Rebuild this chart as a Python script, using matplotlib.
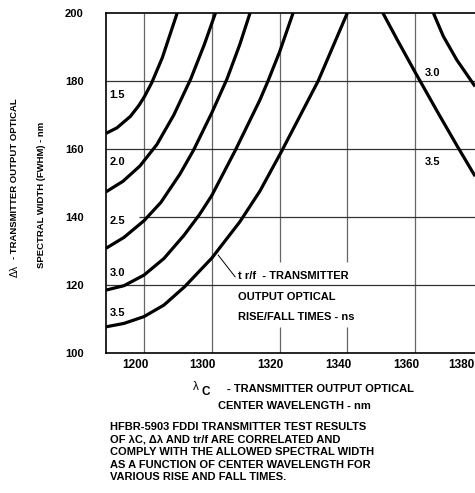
import matplotlib
matplotlib.use("Agg")
import matplotlib.pyplot as plt
from matplotlib.transforms import ScaledTranslation

# tr/f curves rising with wavelength (left family)
x15 = [1268.8, 1272.0, 1276.0, 1278.5, 1280.2, 1282.3, 1285.4, 1289.8]
y15 = [164.6, 166.2, 169.6, 172.8, 175.5, 179.5, 186.8, 200.0]
x20 = [1268.8, 1273.8, 1278.8, 1283.8, 1288.8, 1293.8, 1297.8, 1301.1]
y20 = [147.4, 150.5, 155.0, 161.3, 170.0, 180.6, 190.7, 200.0]
x25 = [1268.8, 1274.1, 1280.0, 1285.0, 1290.6, 1294.6, 1300.0, 1304.5, 1308.3, 1311.3]
y25 = [130.8, 134.0, 138.9, 144.3, 152.6, 159.6, 170.6, 180.6, 190.8, 200.0]
x30 = [1268.8, 1274.1, 1280.0, 1285.9, 1291.8, 1296.3, 1300.0, 1306.9, 1314.2, 1316.6, 1320.0, 1324.0]
y30 = [118.5, 119.8, 122.9, 127.8, 134.6, 140.6, 146.3, 159.5, 174.4, 180.0, 188.5, 200.0]
x35 = [1268.8, 1274.1, 1280.0, 1285.9, 1292.0, 1300.0, 1308.3, 1314.2, 1320.7, 1331.4, 1340.0]
y35 = [107.7, 108.7, 110.7, 114.1, 119.5, 127.9, 138.6, 147.6, 159.5, 180.0, 200.0]

# falling curves (right family)
xa = [1350.5, 1354.8, 1360.0, 1366.9, 1372.4, 1377.7]
ya = [200.0, 192.0, 182.6, 170.4, 160.9, 152.0]
xb = [1365.4, 1368.3, 1372.3, 1377.7]
yb = [200.0, 193.2, 186.2, 178.4]

xticks = [1280, 1300, 1320, 1340, 1360, 1380]
xticklabels = ["1200", "1300", "1320", "1340", "1360", "1380"]
yticks = [100, 120, 140, 160, 180, 200]

left_labels = ["1.5", "2.0", "2.5", "3.0", "3.5"]
left_label_y = [175.9, 156.3, 138.9, 123.4, 111.7]
right_labels = ["3.0", "3.5"]
right_label_y = [182.3, 156.3]

plt.rcParams["font.family"] = ["Liberation Sans", "DejaVu Sans"]
plt.rcParams["font.weight"] = "bold"

fig = plt.figure(figsize=(4.75, 4.93), dpi=100)
W, H = 475.0, 493.0
ax = fig.add_axes([106 / W, (H - 353) / H, (490 - 106) / W, (353 - 13) / H])
ax.set_xlim(1268.8, 1382.1)
ax.set_ylim(100, 200)

# grid lines (two verticals are broken around the annotation)
gcol = "#666666"
ax.vlines([1280, 1300, 1360, 1380], 100, 200, color=gcol, lw=0.9, zorder=1)
ax.vlines([1320, 1340], 100, 107.6, color=gcol, lw=0.9, zorder=1)
ax.vlines([1320, 1340], 126.8, 200, color=gcol, lw=0.9, zorder=1)
ax.hlines([120, 160, 180], 1268.8, 1382.1, color="#333333", lw=0.9, zorder=1)
ax.hlines(140, 1278.5, 1382.1, color="#333333", lw=0.9, zorder=1)

for xs, ys in [(x15, y15), (x20, y20), (x25, y25), (x30, y30), (x35, y35), (xa, ya), (xb, yb)]:
    ax.plot(xs, ys, color="black", lw=2.3, solid_capstyle="butt",
            solid_joinstyle="round", zorder=3)

for lab, yy in zip(left_labels, left_label_y):
    ax.text(1269.8, yy, lab, fontsize=8, fontweight="bold", va="center", ha="left")
for lab, yy in zip(right_labels, right_label_y):
    ax.text(1362.9, yy, lab, fontsize=8, fontweight="bold", va="center", ha="left")

# annotation
ax.plot([1301.9, 1306.9], [128.8, 122.4], color="black", lw=0.7, zorder=2)
ax.text(1307.8, 122.7, "t r/f  - TRANSMITTER", fontsize=8, fontweight="bold", va="center")
ax.text(1307.8, 116.5, "OUTPUT OPTICAL", fontsize=8, fontweight="bold", va="center")
ax.text(1307.8, 110.7, "RISE/FALL TIMES - ns", fontsize=8, fontweight="bold", va="center")

for s in ["left", "bottom", "top"]:
    ax.spines[s].set_linewidth(1.2)
ax.spines["right"].set_visible(False)

ax.set_xticks(xticks)
ax.set_xticklabels(xticklabels, fontsize=8.5, fontweight="bold")
ax.set_yticks(yticks)
ax.set_yticklabels([str(v) for v in yticks], fontsize=8, fontweight="bold")
ax.tick_params(axis="both", length=0)
ax.tick_params(axis="x", pad=4)
ax.tick_params(axis="y", pad=16)
labels = ax.get_xticklabels()
for i, lbl in enumerate(labels):
    dx = -22 if i == len(labels) - 1 else -9
    lbl.set_transform(lbl.get_transform() + ScaledTranslation(dx / 100, 0, fig.dpi_scale_trans))

# y label
fig.text(15 / W, 1 - 259 / H, "- TRANSMITTER OUTPUT OPTICAL", rotation=90, fontsize=6.8,
         fontweight="bold", ha="center", va="bottom")
fig.text(15 / W, 1 - 271 / H, "\u0394\u03bb", rotation=90, fontsize=7.5,
         fontweight="normal", ha="center", va="center")
fig.text(42 / W, 1 - 195 / H, "SPECTRAL WIDTH (FWHM) - nm", rotation=90, fontsize=6.8,
         fontweight="bold", ha="center", va="center")

# x label
fig.text(193 / W, 1 - 387 / H, "\u03bb", fontsize=8.5, fontweight="normal", ha="left", va="center")
fig.text(201 / W, 1 - 392 / H, "C", fontsize=8.5, fontweight="bold", ha="left", va="center")
fig.text(227 / W, 1 - 389 / H, "- TRANSMITTER OUTPUT OPTICAL", fontsize=8, fontweight="bold",
         ha="left", va="center")
fig.text(294.5 / W, 1 - 406 / H, "CENTER WAVELENGTH - nm", fontsize=8, fontweight="bold",
         ha="center", va="center")

note = ["HFBR-5903 FDDI TRANSMITTER TEST RESULTS",
        "OF \u03bbC, \u0394\u03bb AND tr/f ARE CORRELATED AND",
        "COMPLY WITH THE ALLOWED SPECTRAL WIDTH",
        "AS A FUNCTION OF CENTER WAVELENGTH FOR",
        "VARIOUS RISE AND FALL TIMES."]
for i, line in enumerate(note):
    fig.text(110 / W, 1 - (427 + 12.5 * i) / H, line, fontsize=8, fontweight="bold",
             ha="left", va="center")

fig.savefig("out.png", dpi=100)
